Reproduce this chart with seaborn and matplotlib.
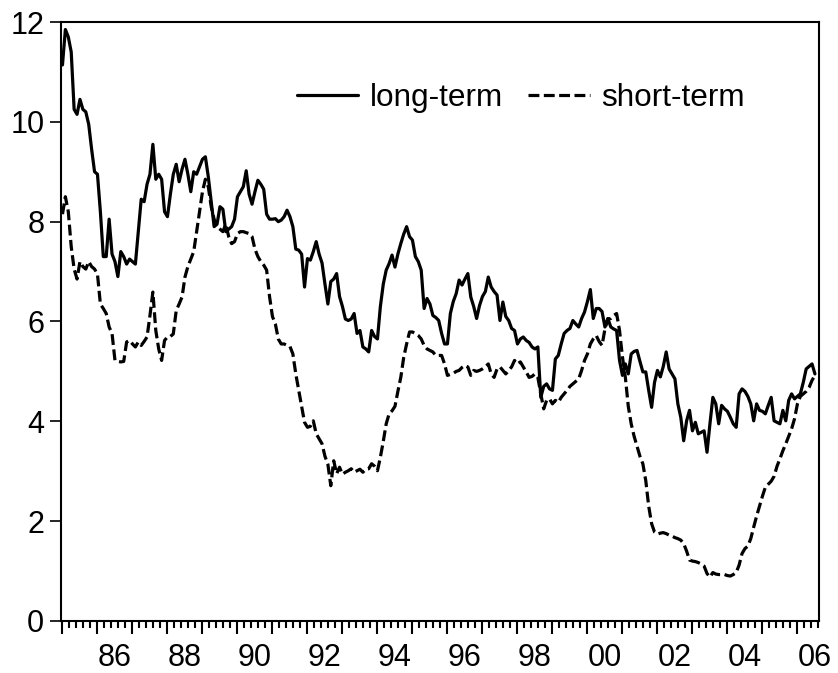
import numpy as np
import pandas as pd
import matplotlib
matplotlib.use("Agg")
import matplotlib.pyplot as plt
from matplotlib.lines import Line2D
import seaborn as sns

# monthly data, 1985:01 - 2006:07
start_year = 1985
year_labels = ['86', '88', '90', '92', '94', '96', '98', '00', '02', '04', '06']
y_ticks = [0, 2, 4, 6, 8, 10, 12]

long_term = [
    11.14, 11.85, 11.70, 11.40, 10.25, 10.15, 10.45, 10.25, 10.20, 9.95, 9.45, 9.00,   # 1985
    8.95, 8.20, 7.30, 7.30, 8.05, 7.35, 7.20, 6.90, 7.40, 7.30, 7.15, 7.25,            # 1986
    7.20, 7.15, 7.80, 8.45, 8.40, 8.75, 8.95, 9.55, 8.85, 8.95, 8.85, 8.20,            # 1987
    8.10, 8.55, 8.95, 9.15, 8.80, 9.05, 9.25, 8.95, 8.60, 9.00, 8.95, 9.10,            # 1988
    9.25, 9.30, 8.90, 8.40, 7.90, 7.95, 8.30, 8.25, 7.80, 7.85, 7.90, 8.05,            # 1989
    8.50, 8.60, 8.70, 9.02, 8.55, 8.35, 8.60, 8.83, 8.75, 8.65, 8.15, 8.05,            # 1990
    8.05, 8.06, 8.00, 8.03, 8.10, 8.23, 8.10, 7.90, 7.45, 7.43, 7.35, 6.69,            # 1991
    7.26, 7.23, 7.40, 7.60, 7.35, 7.17, 6.75, 6.35, 6.80, 6.85, 6.96, 6.50,            # 1992
    6.30, 6.05, 6.02, 6.05, 6.16, 5.76, 5.82, 5.49, 5.45, 5.39, 5.82, 5.70,            # 1993
    5.65, 6.30, 6.75, 7.03, 7.16, 7.33, 7.09, 7.35, 7.56, 7.75, 7.90, 7.70,            # 1994
    7.63, 7.30, 7.20, 7.03, 6.26, 6.46, 6.35, 6.12, 6.08, 6.02, 5.76, 5.55,            # 1995
    5.55, 6.16, 6.40, 6.56, 6.83, 6.73, 6.85, 6.96, 6.49, 6.30, 6.06, 6.32,            # 1996
    6.50, 6.60, 6.89, 6.69, 6.60, 6.53, 6.02, 6.39, 6.10, 6.02, 5.86, 5.82,            # 1997
    5.55, 5.65, 5.69, 5.62, 5.58, 5.49, 5.45, 5.49, 4.48, 4.70, 4.75, 4.65,            # 1998
    4.62, 5.25, 5.32, 5.55, 5.76, 5.82, 5.86, 6.02, 5.95, 5.89, 6.06, 6.19,            # 1999
    6.40, 6.64, 6.06, 6.26, 6.26, 6.20, 5.89, 6.06, 5.89, 5.85, 5.82, 5.22,            # 2000
    4.92, 5.15, 4.95, 5.35, 5.40, 5.42, 5.20, 4.99, 4.99, 4.62, 4.28, 4.78,            # 2001
    5.02, 4.89, 5.10, 5.39, 5.05, 4.95, 4.85, 4.35, 4.08, 3.61, 4.01, 4.22,            # 2002
    3.81, 3.98, 3.75, 3.78, 3.81, 3.38, 3.95, 4.48, 4.35, 3.95, 4.32, 4.25,            # 2003
    4.20, 4.08, 3.95, 3.88, 4.55, 4.65, 4.60, 4.50, 4.35, 4.01, 4.35, 4.22,            # 2004
    4.20, 4.15, 4.32, 4.48, 4.01, 3.98, 3.95, 4.22, 4.01, 4.42, 4.55, 4.45,            # 2005
    4.50, 4.55, 4.78, 5.05, 5.10, 5.15, 4.95,                                          # 2006
]

short_term = [
    8.15, 8.50, 8.20, 7.50, 7.05, 6.85, 7.20, 7.10, 7.05, 7.20, 7.10, 7.05,            # 1985
    6.95, 6.35, 6.26, 6.16, 5.89, 5.76, 5.22, 5.20, 5.19, 5.20, 5.59, 5.62,            # 1986
    5.55, 5.49, 5.59, 5.52, 5.60, 5.69, 6.12, 6.59, 5.82, 5.45, 5.22, 5.62,            # 1987
    5.69, 5.70, 5.75, 6.22, 6.35, 6.49, 6.89, 7.10, 7.25, 7.40, 7.80, 8.20,            # 1988
    8.60, 8.85, 8.70, 8.30, 8.05, 7.90, 7.85, 7.80, 7.95, 7.70, 7.56, 7.60,            # 1989
    7.76, 7.80, 7.80, 7.78, 7.76, 7.70, 7.45, 7.30, 7.20, 7.13, 7.03, 6.50,            # 1990
    6.10, 5.95, 5.65, 5.55, 5.55, 5.52, 5.50, 5.35, 4.95, 4.62, 4.30, 3.98,            # 1991
    3.88, 3.90, 4.01, 3.75, 3.65, 3.55, 3.30, 3.14, 2.71, 3.21, 2.95, 3.08,            # 1992
    2.94, 2.98, 3.01, 3.05, 2.98, 3.01, 3.04, 2.98, 3.04, 3.05, 3.15, 3.10,            # 1993
    3.01, 3.28, 3.60, 3.95, 4.15, 4.21, 4.30, 4.60, 4.88, 5.28, 5.55, 5.79,            # 1994
    5.79, 5.76, 5.72, 5.65, 5.52, 5.45, 5.42, 5.39, 5.32, 5.32, 5.32, 5.15,            # 1995
    4.92, 4.94, 4.96, 5.00, 5.02, 5.08, 5.12, 5.09, 4.92, 5.02, 5.00, 5.02,            # 1996
    5.05, 5.09, 5.15, 4.95, 4.88, 5.05, 5.09, 5.02, 4.95, 5.02, 5.09, 5.22,            # 1997
    5.15, 5.19, 5.09, 4.99, 4.88, 4.90, 4.95, 4.88, 4.55, 4.25, 4.42, 4.45,            # 1998
    4.35, 4.42, 4.38, 4.48, 4.55, 4.62, 4.70, 4.75, 4.80, 4.85, 5.02, 5.22,            # 1999
    5.35, 5.55, 5.65, 5.72, 5.60, 5.52, 5.85, 6.05, 6.06, 6.12, 6.16, 5.82,            # 2000
    5.29, 4.88, 4.30, 3.95, 3.70, 3.50, 3.30, 3.15, 2.81, 2.30, 1.95, 1.78,            # 2001
    1.74, 1.76, 1.77, 1.75, 1.72, 1.70, 1.67, 1.65, 1.62, 1.55, 1.40, 1.22,            # 2002
    1.20, 1.19, 1.17, 1.14, 1.10, 0.95, 0.88, 0.97, 0.94, 0.93, 0.93, 0.93,            # 2003
    0.91, 0.90, 0.93, 0.97, 1.12, 1.35, 1.45, 1.50, 1.65, 1.88, 2.10, 2.30,            # 2004
    2.50, 2.68, 2.74, 2.80, 2.90, 3.10, 3.25, 3.41, 3.55, 3.70, 3.85, 4.05,            # 2005
    4.35, 4.50, 4.55, 4.60, 4.68, 4.82, 4.92,                                          # 2006
]

n = len(long_term)
t = start_year + np.arange(n) / 12.0
df = pd.DataFrame({
    't': np.concatenate([t, t]),
    'rate': long_term + short_term,
    'series': ['long-term'] * n + ['short-term'] * len(short_term),
})

sns.set_style('white')
plt.rcParams['font.family'] = ['Liberation Sans', 'DejaVu Sans']
plt.rcParams['text.color'] = 'black'

lw = 2.3
dash = (3.4, 1.4)

fig = plt.figure(figsize=(8.38, 6.73), dpi=100)
ax = fig.add_axes([0.0728, 0.0773, 0.9049, 0.8900])
sns.lineplot(data=df, x='t', y='rate', style='series',
             dashes={'long-term': '', 'short-term': dash},
             color='black', lw=lw, legend=False, ax=ax)

ax.set_xlim(start_year - 0.5 / 12, start_year + (n + 0.5) / 12)
ax.set_ylim(0, 12)
ax.set_xlabel('')
ax.set_ylabel('')

for s in ax.spines.values():
    s.set_visible(True)
    s.set_color('black')
    s.set_linewidth(1.5)

# year ticks (long) and sub-ticks (short), labels are put on a separate axis
years = np.arange(start_year, start_year + n // 12 + 1)
ax.set_xticks(years)
ax.set_xticks([y + k / 5 for y in years for k in range(1, 5)
               if y + k / 5 < ax.get_xlim()[1]], minor=True)
ax.tick_params(axis='x', which='major', direction='out', length=9.5, width=1.5,
               color='black', bottom=True, labelbottom=False)
ax.tick_params(axis='x', which='minor', direction='out', length=5, width=1.5,
               color='black', bottom=True, labelbottom=False)

ax.set_yticks(y_ticks)
ax.set_yticklabels([str(v) for v in y_ticks])
ax.tick_params(axis='y', direction='out', length=8, width=1.2, color='black',
               labelsize=22, pad=4, labelcolor='black', left=True)

label_pos = [(1900 if int(l) > 50 else 2000) + int(l) + 0.5 for l in year_labels]
sec = ax.secondary_xaxis('bottom')
sec.set_xticks(label_pos)
sec.set_xticklabels(year_labels)
sec.tick_params(length=0, pad=16, labelsize=22, labelcolor='black')
sec.spines['bottom'].set_visible(False)

handles = [Line2D([], [], color='black', lw=lw),
           Line2D([], [], color='black', lw=lw, linestyle=(0, dash))]
ax.legend(handles, ['long-term', 'short-term'], ncol=2, frameon=False,
          loc='center left', bbox_to_anchor=(0.311, 0.873), borderpad=0,
          borderaxespad=0, handlelength=1.94, handletextpad=0.38,
          columnspacing=0.8, fontsize=22.7)

fig.savefig('out.png', dpi=100)
